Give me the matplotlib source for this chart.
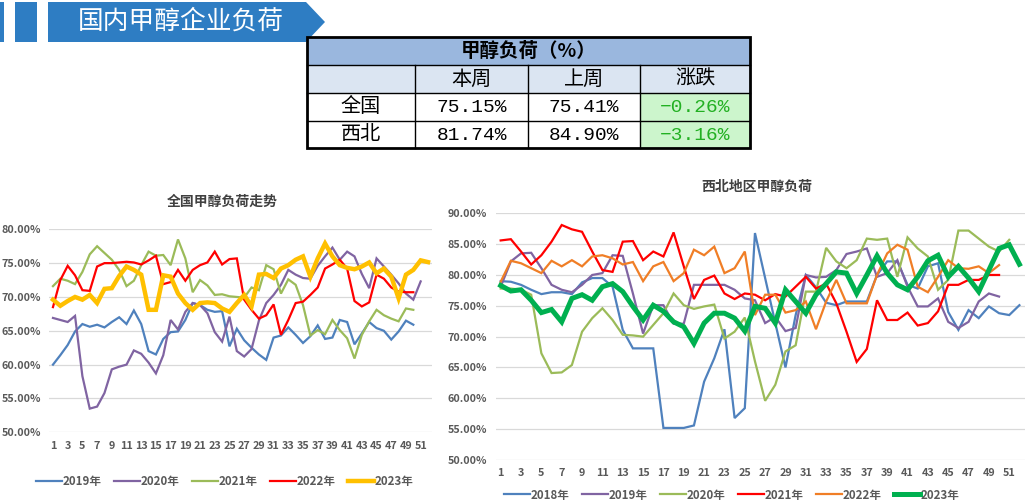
import numpy as np
import matplotlib.pyplot as plt
from matplotlib.patches import Rectangle, Polygon

plt.rcParams['font.family'] = ['Noto Sans CJK SC', 'DejaVu Sans']

# ---------------- data ----------------
page_title = '国内甲醇企业负荷'
table_title = '甲醇负荷（%）'
table_cols = ['本周', '上周', '涨跌']
table_rows = ['全国', '西北']
this_week = ['75.15%', '81.74%']
last_week = ['75.41%', '84.90%']
change = ['-0.26%', '-3.16%']

# 全国甲醇负荷走势 (weekly, %)
nat_labels = ['2019年', '2020年', '2021年', '2022年', '2023年']
nat_2019 = [60.0, 61.4, 62.9, 64.9, 66.0, 65.6, 65.9, 65.5, 66.3, 67.0,
            66.0, 68.0, 66.0, 62.0, 61.5, 63.8, 64.8, 64.9, 66.6, 69.1,
            68.8, 68.1, 67.8, 67.9, 62.7, 65.3, 63.6, 62.5, 61.5, 60.7,
            64.0, 64.3, 65.5, 64.4, 63.2, 64.2, 65.8, 63.8, 64.0, 66.6,
            66.3, 63.0, 64.6, 66.3, 65.4, 65.0, 63.7, 64.9, 66.5, 65.9]
nat_2020 = [66.9, 66.6, 66.3, 67.2, 58.3, 53.5, 53.8, 55.8, 59.3, 59.7,
            60.0, 62.1, 61.6, 60.3, 58.7, 61.4, 66.6, 65.2, 67.8, 69.1,
            68.8, 67.6, 64.8, 63.4, 67.1, 62.0, 61.2, 62.3, 66.5, 69.1,
            70.3, 71.8, 74.0, 73.3, 72.8, 72.7, 74.6, 76.0, 77.3, 75.5,
            76.7, 76.0, 73.4, 71.3, 75.7, 74.5, 73.3, 72.0, 70.5, 69.6, 72.3]
nat_2021 = [71.6, 72.7, 72.4, 71.9, 73.7, 76.3, 77.5, 76.5, 75.5, 74.0,
            71.6, 72.4, 74.7, 76.7, 76.1, 76.2, 74.7, 78.5, 75.7, 70.7,
            72.5, 71.7, 70.3, 70.4, 70.1, 70.0, 69.9, 71.4, 71.0, 74.7,
            74.1, 70.5, 72.6, 71.8, 68.8, 64.3, 65.1, 64.5, 66.6, 65.1,
            63.9, 60.9, 64.4, 66.4, 68.1, 67.3, 66.8, 66.4, 68.3, 68.1]
nat_2022 = [68.5, 72.5, 74.6, 73.2, 71.0, 70.9, 74.5, 75.0, 75.0, 75.1,
            75.2, 75.1, 74.8, 75.4, 76.1, 71.9, 72.2, 74.0, 72.4, 74.0,
            74.7, 75.1, 76.7, 74.8, 75.6, 75.7, 69.6, 68.1, 66.8, 67.3,
            68.9, 64.4, 66.6, 69.1, 69.3, 70.3, 71.4, 74.2, 74.8, 75.5,
            74.2, 69.4, 68.6, 69.2, 73.3, 72.7, 71.4, 70.8, 70.7, 70.7]
nat_2023 = [69.6, 68.7, 69.4, 70.0, 69.6, 70.3, 69.1, 71.2, 71.3, 73.1,
            74.5, 74.0, 73.3, 68.1, 68.1, 73.2, 73.0, 70.5, 69.1, 68.1,
            69.1, 69.2, 69.1, 68.3, 67.8, 69.1, 70.3, 68.6, 73.3, 73.4,
            72.8, 74.2, 74.7, 75.5, 76.0, 73.0, 75.7, 77.9, 76.0, 74.7,
            74.3, 74.1, 74.5, 75.1, 73.5, 74.2, 73.0, 69.8, 73.3, 74.0,
            75.41, 75.15]

# 西北地区甲醇负荷 (weekly, %)
nw_labels = ['2018年', '2019年', '2020年', '2021年', '2022年', '2023年']
nw_2018 = [79.0, 78.9, 78.4, 77.6, 76.9, 77.2, 77.2, 76.9, 78.8, 79.5,
           79.5, 78.1, 71.1, 68.1, 68.1, 68.1, 55.2, 55.2, 55.2, 55.6,
           62.7, 66.5, 71.2, 56.8, 58.4, 86.8, 79.5, 72.2, 65.0, 73.5,
           80.0, 78.0, 75.5, 75.1, 75.7, 75.7, 75.7, 80.0, 82.2, 82.2,
           78.4, 77.8, 81.4, 81.9, 74.0, 71.1, 74.3, 73.0, 74.9, 73.8,
           73.5, 75.1]
nw_2019 = [78.1, 82.2, 83.5, 83.6, 81.1, 78.4, 77.6, 77.2, 78.4, 80.0,
           80.3, 83.2, 83.1, 77.0, 70.5, 75.1, 75.1, 72.1, 72.1, 78.4,
           78.4, 78.4, 78.4, 77.6, 76.2, 75.9, 72.2, 73.2, 70.9, 71.4,
           80.0, 79.6, 79.7, 80.8, 83.4, 83.8, 84.3, 79.7, 80.3, 82.4,
           78.1, 74.9, 74.9, 76.2, 72.4, 71.4, 72.4, 75.7, 77.0, 76.5]
nw_2020 = [77.8, 77.8, 77.6, 76.8, 67.3, 64.1, 64.2, 65.4, 70.8, 73.0,
           74.6, 72.7, 70.3, 70.2, 70.0, 71.9, 73.8, 77.0, 75.1, 74.5,
           74.9, 75.2, 69.7, 70.8, 73.1, 66.0, 59.6, 62.2, 67.6, 68.6,
           77.3, 77.3, 84.4, 82.2, 81.1, 82.4, 85.9, 85.7, 85.9, 79.7,
           86.1, 84.3, 83.0, 77.6, 79.2, 87.2, 87.2, 85.9, 84.6, 83.8, 85.7]
nw_2021 = [85.6, 85.8, 83.8, 81.7, 83.2, 85.4, 88.1, 87.4, 87.0, 83.8,
           80.8, 80.5, 85.4, 85.5, 82.4, 83.8, 83.0, 86.9, 81.4, 76.1,
           79.2, 79.9, 77.0, 76.1, 77.0, 76.8, 75.9, 76.9, 76.5, 78.1,
           79.7, 77.8, 78.6, 75.4, 70.8, 65.9, 68.0, 75.9, 72.7, 72.7,
           73.9, 71.8, 72.2, 74.1, 78.4, 78.4, 79.2, 79.2, 80.0, 80.0]
nw_2022 = [78.9, 82.3, 81.9, 81.1, 80.3, 82.3, 81.4, 82.4, 81.4, 83.0,
           83.2, 82.7, 81.7, 82.1, 79.0, 81.4, 82.1, 79.0, 80.3, 84.1,
           83.2, 84.6, 80.3, 81.1, 83.8, 73.5, 76.8, 76.8, 73.9, 74.3,
           75.7, 71.2, 75.7, 79.2, 75.4, 75.4, 75.4, 80.0, 83.5, 84.9,
           84.1, 78.1, 77.2, 79.7, 82.4, 81.1, 81.0, 81.4, 80.3, 81.6]
nw_2023 = [78.3, 77.4, 77.6, 75.9, 73.9, 74.4, 72.4, 76.2, 76.8, 75.9,
           78.1, 78.6, 77.3, 74.9, 72.7, 75.1, 74.1, 72.4, 71.6, 68.9,
           72.2, 73.8, 73.8, 73.0, 70.9, 74.9, 74.6, 72.2, 77.6, 75.7,
           73.8, 76.8, 78.6, 80.5, 80.3, 77.0, 80.0, 83.1, 80.3, 78.4,
           77.6, 79.7, 82.3, 83.2, 79.7, 81.4, 79.5, 77.3, 80.8, 84.3,
           84.90, 81.74]

W, H = 1025, 504
fig = plt.figure(figsize=(W / 100, H / 100), dpi=100)

# overlay axes in pixel coords for banner + table
bg = fig.add_axes([0, 0, 1, 1])
bg.set_xlim(0, W)
bg.set_ylim(H, 0)
bg.axis('off')

blue = '#2E7DC3'
bg.add_patch(Rectangle((0, 2), 4, 40, color=blue, lw=0))
bg.add_patch(Rectangle((15, 2), 22, 40, color=blue, lw=0))
bg.add_patch(Polygon([(48, 2), (306, 2), (325, 22), (306, 42), (48, 42)], closed=True, color=blue, lw=0))
bg.text(181, 22, page_title, color='white', fontsize=18.5, ha='center', va='center')

# table
col_x = [307, 415, 528, 640, 750]
row_y = [37, 65, 93, 121, 148]
bg.add_patch(Rectangle((col_x[0], row_y[0]), col_x[-1] - col_x[0], row_y[1] - row_y[0], color='#9AB7DE', lw=0))
bg.add_patch(Rectangle((col_x[0], row_y[1]), col_x[-1] - col_x[0], row_y[2] - row_y[1], color='#DBE5F2', lw=0))
for r in range(2):
    bg.add_patch(Rectangle((col_x[3], row_y[2 + r]), col_x[4] - col_x[3], row_y[3 + r] - row_y[2 + r],
                           color='#CCF5CC', lw=0))
for yy in row_y[1:-1]:
    bg.plot([col_x[0], col_x[-1]], [yy, yy], color='black', lw=1)
for xx in col_x[1:-1]:
    bg.plot([xx, xx], [row_y[1], row_y[-1]], color='black', lw=1)
bg.add_patch(Rectangle((col_x[0], row_y[0]), col_x[-1] - col_x[0], row_y[-1] - row_y[0],
                       fill=False, ec='black', lw=2))


def cx(i):
    return (col_x[i] + col_x[i + 1]) / 2


def cy(j):
    return (row_y[j] + row_y[j + 1]) / 2


bg.text((col_x[0] + col_x[-1]) / 2, cy(0), table_title, fontsize=14, fontweight='bold', ha='center', va='center')
for i, c in enumerate(table_cols):
    bg.text(cx(i + 1), cy(1), c, fontsize=14.5, ha='center', va='center')
for j, name in enumerate(table_rows):
    bg.text(cx(0), cy(2 + j), name, fontsize=14.5, ha='center', va='center')
    bg.text(cx(1), cy(2 + j) + 1, this_week[j], fontsize=14, family='Liberation Mono', ha='center', va='center')
    bg.text(cx(2), cy(2 + j) + 1, last_week[j], fontsize=14, family='Liberation Mono', ha='center', va='center')
    bg.text(cx(3), cy(2 + j) + 1, change[j].replace('-', '−'), fontsize=14, family=['Liberation Mono', 'DejaVu Sans'],
            color='#22B022', ha='center', va='center')

txt_color = '#595959'


def style_axis(ax, xmax, ymin, ymax, step):
    ax.set_xlim(0.5, xmax + 0.5)
    ax.set_ylim(ymin, ymax)
    ax.set_yticks(np.arange(ymin, ymax + 0.1, step))
    ax.set_yticklabels([f'{v:.2f}%' for v in np.arange(ymin, ymax + 0.1, step)])
    ax.set_xticks(np.arange(1, 52, 2))
    ax.grid(axis='y', color='#D9D9D9', lw=0.9)
    ax.set_axisbelow(True)
    for s in ax.spines.values():
        s.set_visible(False)
    ax.tick_params(length=0, labelsize=7.8, labelcolor=txt_color, pad=6)
    for lab in ax.get_xticklabels() + ax.get_yticklabels():
        lab.set_fontweight('bold')


# left chart
ax1 = fig.add_axes([49.3 / W, 1 - 432.3 / H, (431.7 - 49.3) / W, (432.3 - 229.3) / H])
nat_series = [nat_2019, nat_2020, nat_2021, nat_2022, nat_2023]
nat_colors = ['#4F81BD', '#8064A2', '#9BBB59', '#FF0000', '#FFC000']
for vals, col, lab in zip(nat_series, nat_colors, nat_labels):
    lw = 3.2 if lab == '2023年' else 1.6
    ax1.plot(np.arange(1, len(vals) + 1), vals, color=col, lw=lw, label=lab, solid_joinstyle='miter')
style_axis(ax1, 52, 50, 80, 5)
fig.text(222 / W, 1 - 201.5 / H, '全国甲醇负荷走势', fontsize=10, fontweight='bold', color='#404040',
         ha='center', va='center')
h, l = ax1.get_legend_handles_labels()
leg1 = fig.legend(h, l, loc='center', bbox_to_anchor=(225 / W, 1 - 482 / H), ncol=5, frameon=False,
                  fontsize=8.3, handlelength=2.2, handletextpad=0.1, columnspacing=1.1)
for t in leg1.get_texts():
    t.set_color(txt_color)
    t.set_fontweight('bold')

# right chart
ax2 = fig.add_axes([495.6 / W, 1 - 460 / H, (1024.5 - 495.6) / W, (460 - 213.3) / H])
nw_series = [nw_2018, nw_2019, nw_2020, nw_2021, nw_2022, nw_2023]
nw_colors = ['#4F81BD', '#8064A2', '#9BBB59', '#FF0000', '#F07E26', '#00B050']
for vals, col, lab in zip(nw_series, nw_colors, nw_labels):
    lw = 3.6 if lab == '2023年' else 1.6
    ax2.plot(np.arange(1, len(vals) + 1), vals, color=col, lw=lw, label=lab, solid_joinstyle='miter')
style_axis(ax2, 52, 50, 90, 5)
fig.text(757 / W, 1 - 187 / H, '西北地区甲醇负荷', fontsize=10, fontweight='bold', color='#404040',
         ha='center', va='center')
h, l = ax2.get_legend_handles_labels()
leg2 = fig.legend(h, l, loc='center', bbox_to_anchor=(732 / W, 1 - 495 / H), ncol=6, frameon=False,
                  fontsize=8.3, handlelength=2.2, handletextpad=0.1, columnspacing=1.1)
for t in leg2.get_texts():
    t.set_color(txt_color)
    t.set_fontweight('bold')

fig.savefig('out.png', dpi=100)
